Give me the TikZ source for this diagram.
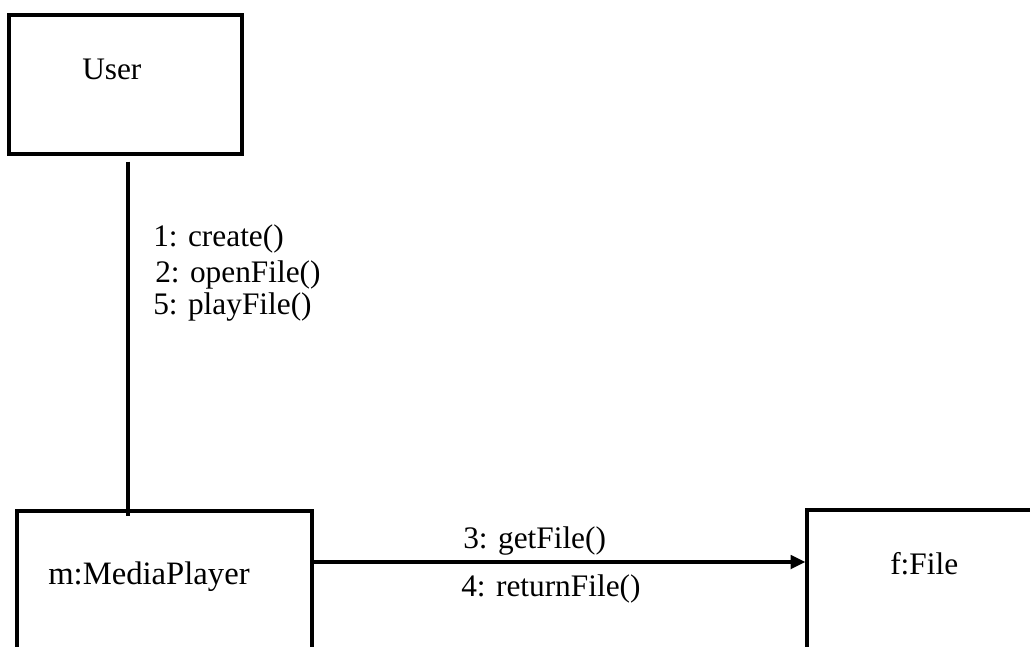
\documentclass[tikz,border=0pt]{standalone}
\usepackage{fontspec}
\setmainfont{Liberation Serif}
\usetikzlibrary{arrows.meta}
\begin{document}
\begin{tikzpicture}[x=0.75pt,y=-0.75pt,
  objbox/.style={draw, line width=2.4pt, inner sep=0pt},
  lbl/.style={anchor=base west, inner sep=0pt, font=\fontsize{23.5}{28}\selectfont},
  assoc/.style={draw, line width=2.7pt},
  msg/.style={draw, line width=2.7pt, -{Triangle[length=11pt,width=10pt]}}]
\useasboundingbox (0,0) rectangle (1030,646);
\clip (0,0) rectangle (1030,646);
% object boxes (the lower two run past the page edge)
\node[objbox, minimum width=233*0.75pt, minimum height=139*0.75pt] (user) at (125.5,84.5) {};
\node[objbox, minimum width=295*0.75pt, minimum height=260*0.75pt] (mp) at (164.5,641) {};
\node[objbox, minimum width=300*0.75pt, minimum height=260*0.75pt] (file) at (957,640) {};
% box titles
\node[lbl] (userT) at (82,79) {User};
\node[lbl, font=\fontsize{24.5}{29}\selectfont] (mpT) at (48,584) {m:MediaPlayer};
\node[lbl] (fileT) at (890,574) {f:File};
% association between User and the media player
\coordinate (linkTop) at ([xshift=2.5*0.75pt,yshift=-6*0.75pt]user.south);
\coordinate (linkEnd) at ([xshift=-36.5*0.75pt,yshift=-7*0.75pt]mp.north);
\path[assoc] (linkTop) -- (linkEnd);
\node[lbl] (m1) at (153,246) {1: create()};
\node[lbl] (m2) at (155,282) {2: openFile()};
\node[lbl] (m5) at (153,314) {5: playFile()};
% message from the media player to the file
\path[msg] (mp.east |- 0,562) -- (file.west |- 0,562);
\node[lbl] (m3) at (463,548) {3: getFile()};
\node[lbl] (m4) at (461,596) {4: returnFile()};
\end{tikzpicture}
\end{document}
